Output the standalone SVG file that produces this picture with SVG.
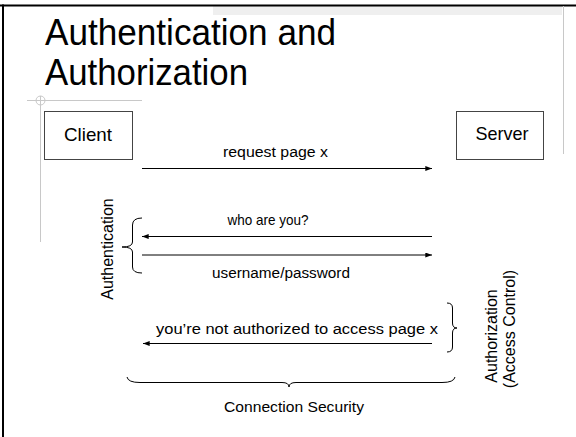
<svg xmlns="http://www.w3.org/2000/svg" width="576" height="437" viewBox="0 0 576 437">
  <defs>
    <marker id="head" viewBox="0 0 8 6" refX="8" refY="3" markerWidth="7" markerHeight="5" markerUnits="userSpaceOnUse" orient="auto">
      <path d="M0,0 L8,3 L0,6 z" fill="#000"/>
    </marker>
    <style>
      text { font-family: "Liberation Sans", Arial, sans-serif; fill: #000; }
      .title { font-size: 37.5px; }
      .node { font-size: 19px; text-anchor: middle; }
      .lbl { font-size: 15.5px; text-anchor: middle; }
      .side { font-size: 16px; text-anchor: middle; }
      .box { fill: #fff; stroke: #444; stroke-width: 1; }
      .msg { fill: none; stroke: #000; stroke-width: 1; marker-end: url(#head); }
      .brace { fill: none; stroke: #000; stroke-width: 1; }
      .guide { fill: none; stroke: #c8c8c8; stroke-width: 1; }
    </style>
  </defs>

  <!-- slide frame -->
  <rect x="0" y="0" width="576" height="437" fill="#fff"/>
  <rect x="213" y="6" width="349" height="9" fill="#efefef"/>
  <line x1="0" y1="5.5" x2="576" y2="5.5" stroke="#000" stroke-width="2"/>
  <line x1="3" y1="4.5" x2="3" y2="437" stroke="#000" stroke-width="2"/>
  <line class="guide" x1="563.5" y1="6" x2="563.5" y2="154"/>

  <!-- layout guide -->
  <g id="guide">
    <line class="guide" x1="27" y1="100.5" x2="142" y2="100.5"/>
    <line class="guide" x1="40.5" y1="96" x2="40.5" y2="242"/>
    <circle class="guide" cx="40.5" cy="100.5" r="4.5"/>
  </g>

  <!-- title -->
  <g id="title">
    <text class="title" x="45" y="45" textLength="291" lengthAdjust="spacingAndGlyphs">Authentication and</text>
    <text class="title" x="45" y="85" textLength="203" lengthAdjust="spacingAndGlyphs">Authorization</text>
  </g>

  <!-- nodes -->
  <g id="client">
    <rect class="box" x="44.5" y="111.5" width="88" height="48"/>
    <text class="node" x="88" y="141" textLength="48" lengthAdjust="spacingAndGlyphs">Client</text>
  </g>
  <g id="server">
    <rect class="box" x="456.5" y="111.5" width="87" height="48"/>
    <text class="node" x="502" y="140" textLength="53" lengthAdjust="spacingAndGlyphs">Server</text>
  </g>

  <!-- messages -->
  <g id="connectors">
    <line class="msg" x1="142" y1="168.5" x2="432" y2="168.5"/>
    <line class="msg" x1="432" y1="236.5" x2="142" y2="236.5"/>
    <line class="msg" x1="142" y1="255" x2="432" y2="255"/>
    <line class="msg" x1="432" y1="343.5" x2="143" y2="343.5"/>
  </g>

  <g id="labels">
    <text class="lbl" x="275.5" y="157" textLength="105" lengthAdjust="spacingAndGlyphs">request page x</text>
    <text class="lbl" x="268" y="225" style="font-size:14.5px" textLength="81" lengthAdjust="spacingAndGlyphs">who are you?</text>
    <text class="lbl" x="281" y="278" textLength="138" lengthAdjust="spacingAndGlyphs">username/password</text>
    <text class="lbl" x="297" y="334" textLength="282" lengthAdjust="spacingAndGlyphs">you’re not authorized to access page x</text>
  </g>

  <!-- authentication brace -->
  <g id="authentication">
    <path class="brace" d="M142,218 Q132.5,218 132.5,225 L132.5,242 Q132.5,247 122,247 Q132.5,247 132.5,252 L132.5,267 Q132.5,273 142,273"/>
    <text class="side" transform="translate(113,249) rotate(-90)">Authentication</text>
  </g>

  <!-- authorization brace -->
  <g id="authorization">
    <path class="brace" d="M447,303 Q452.5,303 452.5,308 L452.5,323 Q452.5,328 457,328 Q452.5,328 452.5,333 L452.5,347 Q452.5,352 447,352"/>
    <text class="side" transform="translate(497,336) rotate(-90)">Authorization</text>
    <text class="side" transform="translate(515,329) rotate(-90)">(Access Control)</text>
  </g>

  <!-- connection security brace -->
  <g id="connection-security">
    <path class="brace" d="M127,377 Q128,382.5 140,382.5 L282,382.5 Q289,382.5 289,387 Q289,382.5 296,382.5 L442,382.5 Q454,382.5 455,377"/>
    <text class="lbl" x="294" y="412" textLength="140" lengthAdjust="spacingAndGlyphs">Connection Security</text>
  </g>
</svg>
